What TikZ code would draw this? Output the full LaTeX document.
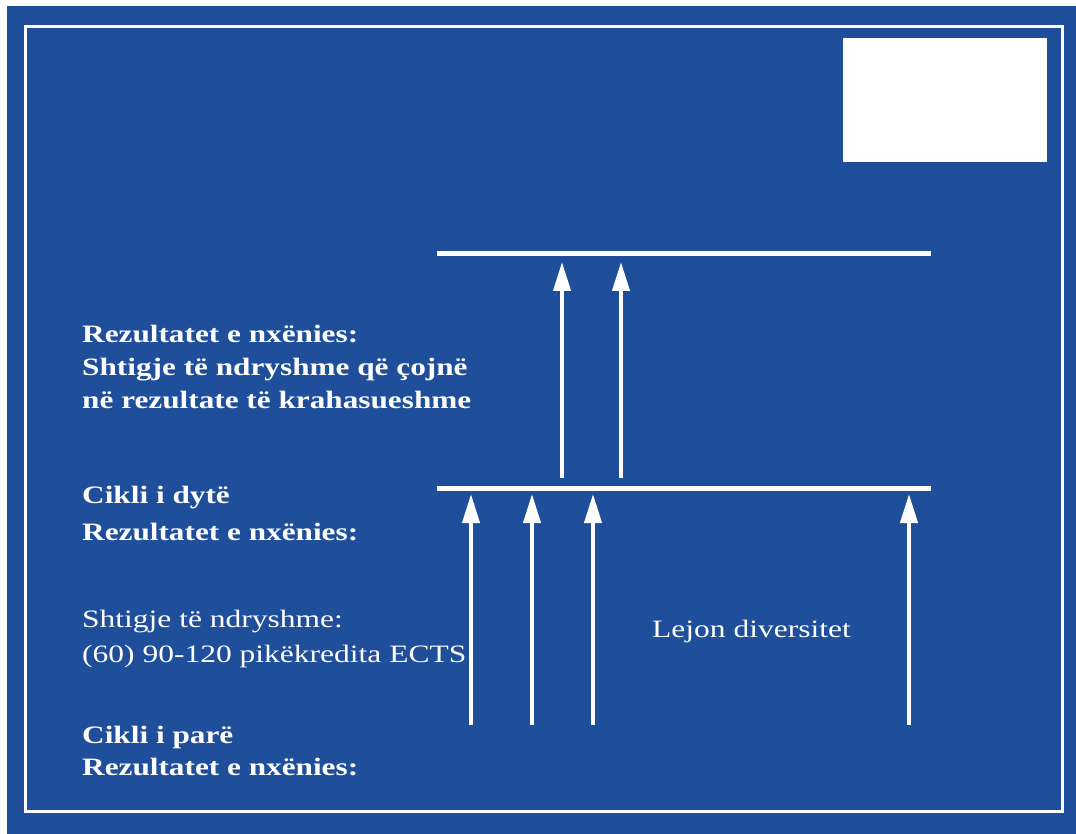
\documentclass[tikz,border=0pt]{standalone}
\usepackage{fontspec}
\setmainfont{Liberation Serif}
\newfontfamily\boldwide[FakeStretch=1.25]{Liberation Serif Bold}
\newfontfamily\regwide[FakeStretch=1.26]{Liberation Serif}
\usetikzlibrary{arrows.meta}
\definecolor{bgblue}{RGB}{31,78,155}
\tikzset{
  bartxt/.style={text=white, anchor=base west, inner sep=0pt, align=left},
  boldlbl/.style={bartxt, font=\boldwide\fontsize{25}{34}\selectfont},
  reglbl/.style={bartxt, font=\regwide\fontsize{25}{35}\selectfont},
  levelline/.style={white, line width=5pt},
  uparrow/.style={white, line width=4pt, -{Triangle[width=17pt,length=29pt]}},
}
\begin{document}
\begin{tikzpicture}[x=1pt,y=-1pt]
\useasboundingbox (0,0) rectangle (1076,834);
\fill[bgblue] (7,6) rectangle (1076,834);
\draw[white, line width=3pt] (25,27) rectangle (1062,811);
\fill[white] (843,38) rectangle (1047,162);
% level lines
\draw[levelline] (437,254) -- (931,254);
\draw[levelline] (437,488) -- (931,488);
% arrow ends
\coordinate (u1s) at (562,478); \coordinate (u1e) at (562,262);
\coordinate (u2s) at (621,478); \coordinate (u2e) at (621,262);
\coordinate (l1s) at (471,725); \coordinate (l1e) at (471,494);
\coordinate (l2s) at (532,725); \coordinate (l2e) at (532,494);
\coordinate (l3s) at (593,725); \coordinate (l3e) at (593,494);
\coordinate (l4s) at (909,725); \coordinate (l4e) at (909,494);
\foreach \a in {u1,u2,l1,l2,l3,l4} \draw[uparrow] (\a s) -- (\a e);
% texts (anchored at the baseline of their last line)
\node[boldlbl, font=\boldwide\fontsize{25}{33}\selectfont] (t1) at (82,408) {Rezultatet e nxënies:\\Shtigje të ndryshme që çojnë\\në rezultate të krahasueshme};
\node[boldlbl, font=\boldwide\fontsize{25}{37}\selectfont] (t2) at (82,540) {Cikli i dytë\\Rezultatet e nxënies:};
\node[reglbl] (t3) at (82,662) {Shtigje të ndryshme:\\(60) 90-120 pikëkredita ECTS};
\node[boldlbl, font=\boldwide\fontsize{25}{32}\selectfont] (t4) at (82,775) {Cikli i parë\\Rezultatet e nxënies:};
\node[reglbl] (t5) at (652,637) {Lejon diversitet};
\end{tikzpicture}
\end{document}
